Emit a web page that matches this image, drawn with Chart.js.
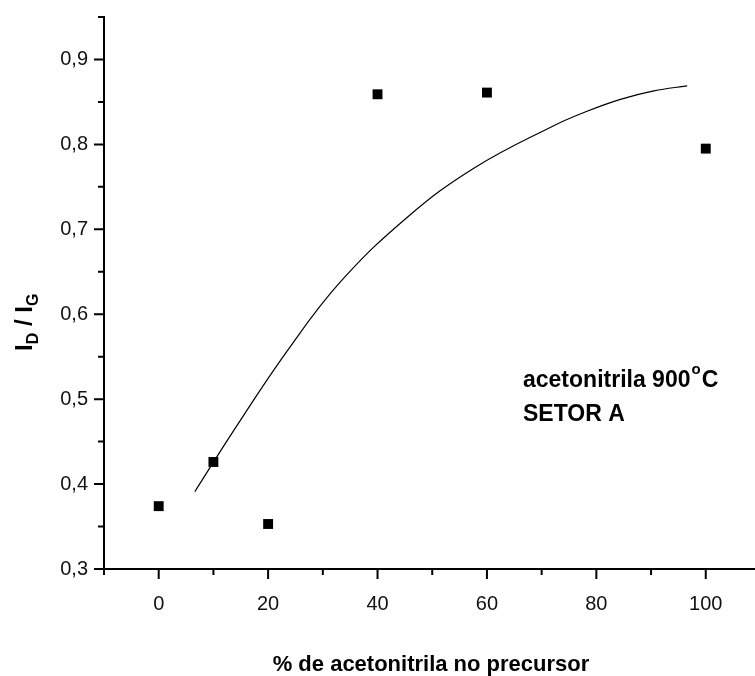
<!DOCTYPE html>
<html>
<head>
<meta charset="utf-8">
<script src="https://cdn.jsdelivr.net/npm/chart.js@4/dist/chart.umd.min.js"></script>
<style>
  html, body { margin: 0; padding: 0; background: #fff; overflow: hidden; }
  #clip { width: 755px; height: 676px; overflow: hidden; position: relative; }
  #wrap { width: 762px; height: 687px; position: absolute; left: 0; top: -11px; }
</style>
</head>
<body>
<div id="clip"><div id="wrap"><canvas id="c"></canvas></div></div>
<script>
// ── Data ─────────────────────────────────────────────
const percX   = [0, 10, 20, 40, 60, 100];
const ratioY  = [0.374, 0.426, 0.353, 0.859, 0.861, 0.795];

// fitted curve
const fitX = [6.6, 13.7, 23.4, 33.2, 45.4, 57.6, 72.2, 78.3, 84.4, 90.5, 96.6];
const fitY = [0.391, 0.463, 0.556, 0.638, 0.714, 0.772, 0.822, 0.839, 0.853, 0.863, 0.869];

const xMajor = [0, 20, 40, 60, 80, 100];
const xMinor = [-10, 10, 30, 50, 70, 90];
const yMajor = [0.3, 0.4, 0.5, 0.6, 0.7, 0.8, 0.9];
const yMinor = [0.35, 0.45, 0.55, 0.65, 0.75, 0.85, 0.95];

const FONT = "'Liberation Sans', Arial, sans-serif";

// ── Tick marks + titles + note ───────────────────────
const decor = {
  id: 'decor',
  afterDraw(chart) {
    const { ctx, scales: { x, y }, chartArea: a } = chart;
    ctx.save();
    ctx.strokeStyle = '#000';
    ctx.lineWidth = 2;
    ctx.beginPath();
    xMajor.forEach(v => { const p = x.getPixelForValue(v); ctx.moveTo(p, a.bottom); ctx.lineTo(p, a.bottom + 10); });
    xMinor.forEach(v => { const p = x.getPixelForValue(v); ctx.moveTo(p, a.bottom); ctx.lineTo(p, a.bottom + 6); });
    yMajor.forEach(v => { const p = y.getPixelForValue(v); ctx.moveTo(a.left, p); ctx.lineTo(a.left - 10, p); });
    yMinor.forEach(v => { const p = y.getPixelForValue(v); ctx.moveTo(a.left, p); ctx.lineTo(a.left - 6, p); });
    ctx.stroke();

    // canvas sits 11px higher than the page, so page y + 11
    const oy = 11;
    ctx.fillStyle = '#000';
    ctx.textBaseline = 'alphabetic';

    // x title
    ctx.font = 'bold 22px ' + FONT;
    ctx.textAlign = 'center';
    ctx.fillText('% de acetonitrila no precursor', 431, 671 + oy);

    // y title  I_D / I_G
    ctx.save();
    ctx.translate(32, 351 + oy);
    ctx.rotate(-Math.PI / 2);
    ctx.textAlign = 'left';
    let cx = 0;
    const part = (t, big) => {
      ctx.font = big ? 'bold 24px ' + FONT : 'bold 16px ' + FONT;
      ctx.fillText(t, cx, big ? 0 : 6);
      cx += ctx.measureText(t).width;
    };
    part('I', true); part('D', false); part(' / ', true); part('I', true); part('G', false);
    ctx.restore();

    // note
    ctx.textAlign = 'left';
    ctx.font = 'bold 23px ' + FONT;
    const t1 = 'acetonitrila 900';
    ctx.fillText(t1, 523, 387 + oy);
    const w = ctx.measureText(t1).width;
    ctx.font = 'bold 15px ' + FONT;
    ctx.fillText('o', 523 + w + 1, 374 + oy);
    const wo = ctx.measureText('o').width;
    ctx.font = 'bold 23px ' + FONT;
    ctx.fillText('C', 523 + w + wo + 2, 387 + oy);
    ctx.fillText('SETOR A', 523, 421 + oy);
    ctx.restore();
  }
};

new Chart(document.getElementById('c'), {
  type: 'scatter',
  data: {
    datasets: [
      {
        data: percX.map((v, i) => ({ x: v, y: ratioY[i] })),
        pointStyle: 'rect',
        pointRadius: 7,
        pointHoverRadius: 7,
        backgroundColor: '#000',
        borderColor: '#000',
        borderWidth: 0,
      },
      {
        data: fitX.map((v, i) => ({ x: v, y: fitY[i] })),
        showLine: true,
        tension: 0.4,
        borderColor: '#000',
        borderWidth: 1.2,
        pointRadius: 0,
        fill: false,
      },
    ],
  },
  options: {
    responsive: true,
    maintainAspectRatio: false,
    animation: false,
    layout: { padding: { top: 6, right: 0, left: 0, bottom: 0 } },
    plugins: { legend: { display: false }, tooltip: { enabled: false } },
    scales: {
      x: {
        type: 'linear',
        min: -10,
        max: 109,
        afterBuildTicks: s => { s.ticks = xMajor.map(v => ({ value: v })); },
        afterFit: s => { s.height = 107; },
        grid: { display: false, drawTicks: false },
        border: { display: true, color: '#000', width: 2 },
        ticks: { color: '#111', padding: 23, font: { family: FONT, size: 20 }, maxRotation: 0 },
      },
      y: {
        min: 0.3,
        max: 0.95,
        afterBuildTicks: s => { s.ticks = yMajor.map(v => ({ value: v })); },
        afterFit: s => { s.width = 104; },
        grid: { display: false, drawTicks: false },
        border: { display: true, color: '#000', width: 2 },
        ticks: {
          color: '#111',
          padding: 16,
          font: { family: FONT, size: 20 },
          callback: v => v.toFixed(1).replace('.', ','),
        },
      },
    },
  },
  plugins: [decor],
});
</script>
</body>
</html>
